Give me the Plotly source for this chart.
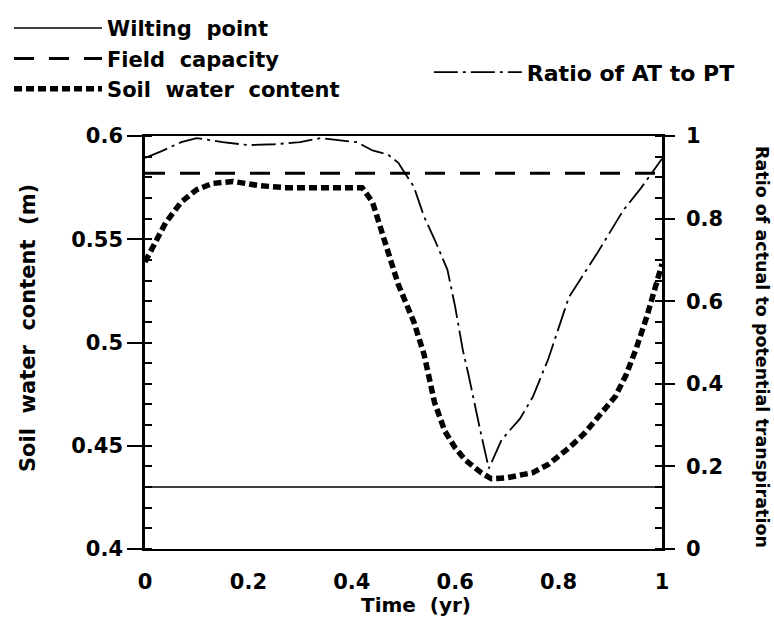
import plotly.graph_objects as go

# ---- data ----
t_line = [0.0, 1.0]
wilting_point = [0.43, 0.43]
field_capacity = [0.582, 0.582]

t_swc = [0.0, 0.02, 0.04, 0.07, 0.10, 0.13, 0.17, 0.22, 0.27, 0.32, 0.37, 0.42,
         0.44, 0.455, 0.47, 0.49, 0.52, 0.54, 0.56, 0.58, 0.60, 0.62, 0.65, 0.67,
         0.70, 0.75, 0.78, 0.82, 0.85, 0.88, 0.91, 0.93, 0.95, 0.97, 0.99, 1.0]
soil_water = [0.539, 0.548, 0.558, 0.568, 0.574, 0.577, 0.578, 0.576, 0.575, 0.575, 0.575, 0.575,
              0.568, 0.556, 0.544, 0.528, 0.510, 0.494, 0.471, 0.457, 0.449, 0.443, 0.437, 0.434,
              0.4345, 0.437, 0.441, 0.449, 0.456, 0.465, 0.474, 0.484, 0.497, 0.512, 0.528, 0.538]

t_ratio = [0.0, 0.03, 0.07, 0.10, 0.15, 0.20, 0.25, 0.30, 0.34, 0.38, 0.41, 0.44, 0.47,
           0.49, 0.52, 0.54, 0.56, 0.585, 0.60, 0.615, 0.625, 0.648, 0.665, 0.69, 0.725,
           0.75, 0.78, 0.82, 0.875, 0.925, 0.96, 1.0]
ratio_at_pt = [0.947, 0.962, 0.985, 0.995, 0.985, 0.978, 0.98, 0.985, 0.995, 0.99, 0.985, 0.965, 0.955,
               0.935, 0.877, 0.804, 0.75, 0.676, 0.586, 0.48, 0.426, 0.29, 0.195, 0.265, 0.315,
               0.368, 0.46, 0.61, 0.717, 0.82, 0.875, 0.945]

x_ticks = [0, 0.2, 0.4, 0.6, 0.8, 1]
x_ticktext = ["0", "0.2", "0.4", "0.6", "0.8", "1"]
y_ticks = [0.4, 0.45, 0.5, 0.55, 0.6]
y_ticktext = ["0.4", "0.45", "0.5", "0.55", "0.6"]
y2_ticks = [0, 0.2, 0.4, 0.6, 0.8, 1]
y2_ticktext = ["0", "0.2", "0.4", "0.6", "0.8", "1"]

FONT = "DejaVu Sans"
BLACK = "black"

fig = go.Figure()
fig.add_trace(go.Scatter(x=t_line, y=wilting_point, mode="lines", name="Wilting  point",
                         line=dict(color=BLACK, width=1.5), legend="legend"))
fig.add_trace(go.Scatter(x=t_line, y=field_capacity, mode="lines", name="Field  capacity",
                         line=dict(color=BLACK, width=3, dash="20px,15px"), legend="legend"))
fig.add_trace(go.Scatter(x=t_swc, y=soil_water, mode="lines", name="Soil  water  content",
                         line=dict(color=BLACK, width=5.5, dash="8px,4px"), legend="legend"))
fig.add_trace(go.Scatter(x=t_ratio, y=ratio_at_pt, mode="lines", name="Ratio of AT to PT",
                         line=dict(color=BLACK, width=1.8, dash="24px,5px,3px,5px"),
                         yaxis="y2", legend="legend2"))

fig.update_layout(
    width=774, height=617,
    margin=dict(l=145, r=112, t=136, b=68, autoexpand=False),
    plot_bgcolor="white", paper_bgcolor="white",
    font=dict(family=FONT, size=21, color=BLACK, weight="bold"),
    showlegend=True,
    legend=dict(x=-0.263, y=1.31, xanchor="left", yanchor="top", bgcolor="rgba(0,0,0,0)",
                font=dict(family=FONT, size=21, weight="bold"), itemwidth=88,
                tracegroupgap=0, borderwidth=0),
    legend2=dict(x=0.549, y=1.205, xanchor="left", yanchor="top", bgcolor="rgba(0,0,0,0)",
                 font=dict(family=FONT, size=22, weight="bold"), itemwidth=88, borderwidth=0),
    xaxis=dict(range=[0, 1], tickvals=x_ticks, ticktext=x_ticktext, showgrid=False,
               zeroline=False, showline=True, linewidth=2, linecolor=BLACK, mirror=True,
               ticks="", ticklabelstandoff=13, tickfont=dict(size=21)),
    yaxis=dict(range=[0.4, 0.6], tickvals=y_ticks, ticktext=y_ticktext, showgrid=False,
               zeroline=False, showline=True, linewidth=2.5, linecolor=BLACK,
               ticks="outside", ticklen=15, tickwidth=2, tickcolor=BLACK,
               minor=dict(ticks="inside", ticklen=7, dtick=0.01, tickwidth=1.5, tickcolor=BLACK),
               tickfont=dict(size=21)),
    yaxis2=dict(range=[0, 1], tickvals=y2_ticks, ticktext=y2_ticktext, overlaying="y", side="right",
                anchor="x", showgrid=False, zeroline=False, showline=True, linewidth=2.5,
                linecolor=BLACK, ticks="outside", ticklen=10, tickwidth=2, tickcolor=BLACK,
                minor=dict(ticks="inside", ticklen=7, dtick=0.05, tickwidth=1.5, tickcolor=BLACK),
                ticklabelstandoff=7, tickfont=dict(size=21)),
    yaxis3=dict(range=[0.4, 0.6], tickvals=y_ticks, overlaying="y", side="left", anchor="x",
                showticklabels=False, showgrid=False, zeroline=False, showline=False,
                ticks="inside", ticklen=13, tickwidth=2, tickcolor=BLACK),
    yaxis4=dict(range=[0, 1], tickvals=y2_ticks, overlaying="y", side="right", anchor="x",
                showticklabels=False, showgrid=False, zeroline=False, showline=False,
                ticks="inside", ticklen=8, tickwidth=2, tickcolor=BLACK),
    annotations=[
        dict(text="Soil  water  content  (m)", textangle=-90, x=28, y=328, xref="paper", yref="paper",
             showarrow=False, font=dict(size=21)),
        dict(text="Ratio of actual to potential transpiration", textangle=90, x=762, y=347,
             xref="paper", yref="paper", showarrow=False, font=dict(size=17.5)),
        dict(text="Time  (yr)", x=416, y=605, xref="paper", yref="paper", showarrow=False,
             font=dict(size=20)),
    ],
)

# convert pixel positions of annotations to paper coordinates
L, R, T, B = 145, 662, 136, 549
for a in fig.layout.annotations:
    px, py = a.x, a.y
    a.x = (px - L) / (R - L)
    a.y = (B - py) / (B - T)
    a.xanchor = "center"
    a.yanchor = "middle"

fig.write_html("out.html")
